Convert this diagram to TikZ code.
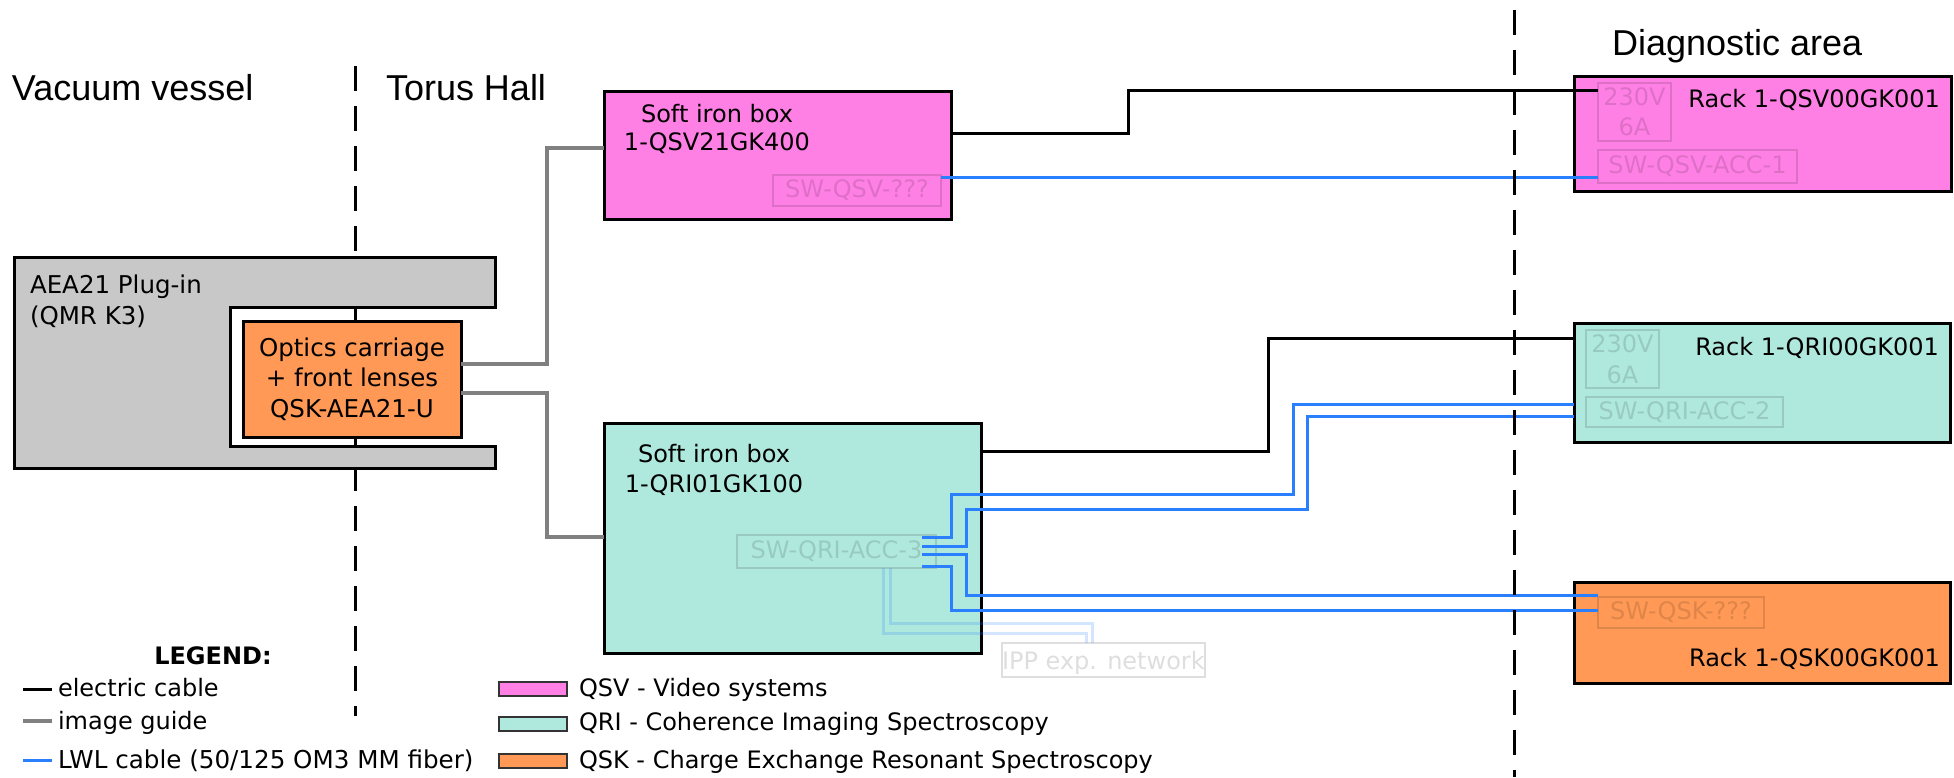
\documentclass[tikz,border=0pt]{standalone}
\usepackage{fontspec}
\setmainfont{DejaVu Sans}
\newfontfamily\titlefont{Liberation Sans}
\usetikzlibrary{calc}
\definecolor{qsv}{RGB}{255,128,229}
\definecolor{qri}{RGB}{175,233,221}
\definecolor{qsk}{RGB}{255,153,85}
\definecolor{plug}{RGB}{200,200,200}
\definecolor{guidegray}{RGB}{128,128,128}
\definecolor{fiber}{RGB}{42,127,255}
\begin{document}
\begin{tikzpicture}[x=1pt,y=-1pt,
  every node/.style={font=\fontsize{24}{30}\selectfont, inner sep=0pt, outer sep=0pt},
  bigbox/.style={draw=black, line width=3pt, anchor=north west},
  fadebox/.style={draw=black, line width=2pt, draw opacity=0.13, text opacity=0.13, anchor=north west, align=center},
  txt/.style={anchor=base west},
  rtxt/.style={anchor=base east},
  ctxt/.style={anchor=base},
  title/.style={anchor=base west, font=\titlefont\fontsize{36}{40}\selectfont},
  elec/.style={draw=black, line width=3pt},
  guideline/.style={draw=guidegray, line width=4pt},
  fib/.style={draw=fiber, line width=3pt},
  net/.style={draw=fiber, line width=3pt, draw opacity=0.2},
  zone/.style={draw=black, line width=3pt, dash pattern=on 25pt off 15pt},
  swatch/.style={draw=black!80, line width=1.5pt},
]
\useasboundingbox (0,0) rectangle (1954,777);

% zone border behind the plug-in
\coordinate (z1a) at (355,66);
\coordinate (z1b) at (355,716);
\draw[zone] (z1a) -- (z1b);

% plug-in (C shape)
\draw[fill=plug, line width=3pt] (14,257) -- (495,257) -- (495,307) -- (230,307) -- (230,446) -- (495,446) -- (495,468) -- (14,468) -- cycle;
\node[txt, font=\fontsize{24.5}{30}\selectfont] (plugA) at (30,293) {AEA21 Plug-in};
\node[txt, font=\fontsize{24.5}{30}\selectfont] (plugB) at (30,324) {(QMR K3)};

% optics carriage
\node[bigbox, fill=qsk, minimum width=218pt, minimum height=116pt, align=center, font=\fontsize{24.5}{30.5}\selectfont] (car) at (243,321) {Optics carriage\\+ front lenses\\QSK-AEA21-U};

% soft iron boxes
\node[bigbox, fill=qsv, minimum width=347pt, minimum height=128pt] (sqsv) at (604,91) {};
\node[ctxt] (sqsvA) at (717,122) {Soft iron box};
\node[ctxt] (sqsvB) at (717,150) {1-QSV21GK400};
\node[fadebox, minimum width=168pt, minimum height=31pt] (sqsvsw) at (773,175) {SW-QSV-???};

\node[bigbox, fill=qri, minimum width=377pt, minimum height=230pt] (sqri) at (604,423) {};
\node[ctxt] (sqriA) at (714,462) {Soft iron box};
\node[ctxt] (sqriB) at (714,492) {1-QRI01GK100};
\node[fadebox, minimum width=199pt, minimum height=33pt] (sqrisw) at (737,535) {SW-QRI-ACC-3};

% racks
\node[bigbox, fill=qsv, minimum width=377pt, minimum height=115pt] (rqsv) at (1574,76) {};
\node[rtxt] (rqsvT) at (1940,107) {Rack 1-QSV00GK001};
\node[fadebox, minimum width=73pt, minimum height=58pt, font=\fontsize{24}{30}\selectfont] (p230) at (1598,83) {230V\\6A};
\node[fadebox, minimum width=199pt, minimum height=33pt] (pacc) at (1598,150) {SW-QSV-ACC-1};

\node[bigbox, fill=qri, minimum width=376pt, minimum height=119pt] (rqri) at (1574,323) {};
\node[rtxt] (rqriT) at (1939,355) {Rack 1-QRI00GK001};
\node[fadebox, minimum width=73pt, minimum height=58pt, font=\fontsize{24}{31}\selectfont] (t230) at (1586,330) {230V\\6A};
\node[fadebox, minimum width=197pt, minimum height=30pt] (tacc) at (1586,397) {SW-QRI-ACC-2};

\node[bigbox, fill=qsk, minimum width=376pt, minimum height=101pt] (rqsk) at (1574,582) {};
\node[rtxt] (rqskT) at (1940,666) {Rack 1-QSK00GK001};
\node[fadebox, minimum width=166pt, minimum height=31pt] (osw) at (1598,597) {SW-QSK-???};

% network box
\node[fadebox, minimum width=199pt, minimum height=34pt, text depth=0pt] (ipp) at (1002,643) {IPP exp. network};

% image guides
\draw[guideline] (car.east |- 0,364) -| (547,148) -- (sqsv.west |- 0,148);
\draw[guideline] (car.east |- 0,393) -| (547,537) -- (sqri.west |- 0,537);

% electric cables
\draw[elec] (sqsv.east |- 0,133) -| (1128,90) -- (p230.west |- 0,90);
\draw[elec] (sqri.east |- 0,451) -| (1268,338) -- (rqri.west |- 0,338);

% fibres
\draw[fib] (sqsvsw.east |- 0,177) -- (pacc.west |- 0,177);
\coordinate (f1) at (922,537);
\coordinate (f2) at (922,546);
\coordinate (f3) at (922,554);
\coordinate (f4) at (922,566);
\draw[fib] (f1) -| (951,494) -| (1293,404) -- (rqri.west |- 0,404);
\draw[fib] (f2) -| (966,509) -| (1307,416) -- (rqri.west |- 0,416);
\draw[fib] (f3) -| (966,595) -- (osw.west |- 0,595);
\draw[fib] (f4) -| (951,610) -- (osw.west |- 0,610);

% network links
\draw[net] (sqrisw.south -| 883,0) |- (1086,633) -- (ipp.north -| 1086,0);
\draw[net] (sqrisw.south -| 890,0) |- (1092,623) -- (ipp.north -| 1092,0);

% diagnostic area border
\coordinate (z2a) at (1514,10);
\coordinate (z2b) at (1514,777);
\draw[zone] (z2a) -- (z2b);

% zone titles
\node[title] (tvac) at (12,100) {Vacuum vessel};
\node[title] (ttor) at (386,100) {Torus Hall};
\node[title] (tdia) at (1612,55) {Diagnostic area};

% legend
\node[ctxt, font=\bfseries\fontsize{24}{30}\selectfont] (leg) at (213,664) {LEGEND:};
\draw[black, line width=3pt] (23,689) -- (52,689);
\node[txt] (legE) at (58,696) {electric cable};
\draw[guidegray, line width=3.5pt] (23,721) -- (52,721);
\node[txt] (legG) at (58,729) {image guide};
\draw[fiber, line width=3pt] (23,760) -- (52,760);
\node[txt, font=\fontsize{24.6}{30}\selectfont] (legF) at (58,768) {LWL cable (50/125 OM3 MM fiber)};

\draw[swatch, fill=qsv] (499,682) rectangle (567,696);
\node[txt] (legV) at (579,696) {QSV - Video systems};
\draw[swatch, fill=qri] (499,717) rectangle (567,731);
\node[txt] (legR) at (579,730) {QRI - Coherence Imaging Spectroscopy};
\draw[swatch, fill=qsk] (499,754) rectangle (567,768);
\node[txt] (legK) at (579,768) {QSK - Charge Exchange Resonant Spectroscopy};
\end{tikzpicture}
\end{document}
